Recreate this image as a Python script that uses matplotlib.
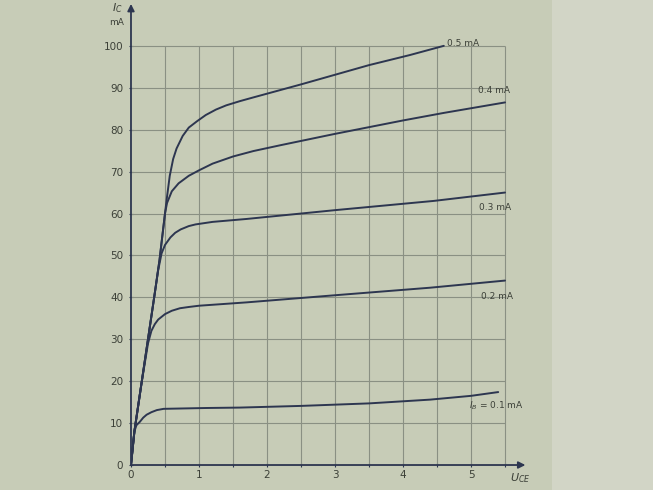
import numpy as np
import matplotlib.pyplot as plt
from matplotlib.patches import Rectangle

# collector characteristics I_C = f(U_CE)
u_05 = [0, 0.05, 0.15, 0.25, 0.35, 0.42, 0.5, 0.53, 0.57, 0.62, 0.67, 0.76, 0.85, 0.97, 1.1, 1.25, 1.4, 1.6, 1.8, 2.5, 3.0, 3.5, 4.1, 4.6]
i_05 = [0, 8, 19, 30, 41, 49, 60, 64, 69, 73, 75.5, 78.5, 80.5, 82, 83.5, 84.8, 85.8, 86.8, 87.7, 90.8, 93.1, 95.4, 97.8, 100]

u_04 = [0, 0.05, 0.15, 0.25, 0.35, 0.42, 0.5, 0.53, 0.6, 0.7, 0.85, 1.0, 1.2, 1.5, 1.8, 2.2, 3.0, 4.0, 4.6, 5.5]
i_04 = [0, 8, 19, 30, 41, 49, 60, 62.5, 65.3, 67.2, 69, 70.3, 71.9, 73.6, 74.9, 76.3, 79, 82.2, 84, 86.5]

u_03 = [0, 0.05, 0.15, 0.25, 0.35, 0.4, 0.45, 0.5, 0.58, 0.65, 0.73, 0.85, 0.95, 1.2, 1.7, 3.0, 4.45, 5.5]
i_03 = [0, 8, 19, 30, 41, 46.5, 50.5, 52.5, 54.3, 55.4, 56.2, 57, 57.4, 58, 58.7, 60.8, 63, 65]

u_02 = [0, 0.05, 0.15, 0.25, 0.3, 0.35, 0.4, 0.5, 0.6, 0.72, 0.85, 1.0, 1.7, 3.0, 4.4, 5.5]
i_02 = [0, 8, 19, 29, 32, 33.6, 34.7, 36, 36.8, 37.4, 37.7, 38, 38.8, 40.5, 42.3, 44]

u_01 = [0, 0.03, 0.05, 0.08, 0.13, 0.18, 0.23, 0.3, 0.38, 0.48, 1.1, 1.6, 2.5, 3.5, 4.4, 5.0, 5.4]
i_01 = [0, 5, 8, 9.5, 10.3, 11.3, 12, 12.6, 13.1, 13.4, 13.6, 13.7, 14.1, 14.7, 15.6, 16.5, 17.4]

curve_labels = ['0.5 mA', '0.4 mA', '0.3 mA', '0.2 mA', '$I_B$ = 0.1 mA']

x_ticks = [0, 1, 2, 3, 4, 5]
y_ticks = [0, 10, 20, 30, 40, 50, 60, 70, 80, 90, 100]
x_grid = [0.5, 1, 1.5, 2, 2.5, 3, 3.5, 4, 4.5, 5, 5.5]

paper = '#c7ccb7'
paper_light = '#d2d5c6'
ink = '#2d3650'
gridc = '#8a9083'
textc = '#3c4038'

fig = plt.figure(figsize=(6.53, 4.9), dpi=100, facecolor=paper)
# lighter page edge on the right of the photo
fig.patches.append(Rectangle((0.845, 0), 0.155, 1, transform=fig.transFigure,
                             facecolor=paper_light, edgecolor='none', zorder=-1))

ax = fig.add_axes([0.2006, 0.051, 0.604, 0.941])
ax.patch.set_alpha(0)
ax.set_xlim(0, 5.8)
ax.set_ylim(0, 110)

# grid only over the printed field 0..5.5 V, 0..100 mA
ax.vlines(x_grid, 0, 100, color=gridc, lw=0.8)
ax.hlines(y_ticks[1:], 0, 5.5, color=gridc, lw=0.8)

for u, i in [(u_05, i_05), (u_04, i_04), (u_03, i_03), (u_02, i_02), (u_01, i_01)]:
    ax.plot(u, i, color=ink, lw=1.4, solid_capstyle='round', solid_joinstyle='round')

# axes with arrow heads
for sp in ax.spines.values():
    sp.set_visible(False)
ax.annotate('', xy=(5.8, 0), xytext=(0, 0),
            arrowprops=dict(arrowstyle='-|>', color=ink, lw=1.3, mutation_scale=10, shrinkA=0, shrinkB=0))
ax.annotate('', xy=(0, 110), xytext=(0, 0),
            arrowprops=dict(arrowstyle='-|>', color=ink, lw=1.3, mutation_scale=10, shrinkA=0, shrinkB=0))

ax.set_xticks(x_ticks)
ax.set_xticks(x_grid, minor=True)
ax.set_yticks(y_ticks)
ax.tick_params(axis='both', which='both', direction='inout', length=3, width=0.8, color=ink,
               labelsize=7.5, labelcolor=textc, pad=2)
ax.tick_params(axis='y', pad=4)

ax.text(4.65, 100.6, curve_labels[0], fontsize=6.5, color=textc, ha='left', va='center')
ax.text(5.1, 89.3, curve_labels[1], fontsize=6.5, color=textc, ha='left', va='center')
ax.text(5.12, 61.5, curve_labels[2], fontsize=6.5, color=textc, ha='left', va='center')
ax.text(5.15, 40.3, curve_labels[3], fontsize=6.5, color=textc, ha='left', va='center')
ax.text(4.97, 14.2, curve_labels[4], fontsize=6.5, color=textc, ha='left', va='center')

ax.text(-0.12, 109, '$I_C$', fontsize=8, color=textc, ha='right', va='center')
ax.text(-0.1, 105.5, 'mA', fontsize=6.5, color=textc, ha='right', va='center')
ax.text(5.72, -1.5, '$U_{CE}$', fontsize=8, color=textc, ha='center', va='top')

fig.savefig('out.png', dpi=100, facecolor=paper)
